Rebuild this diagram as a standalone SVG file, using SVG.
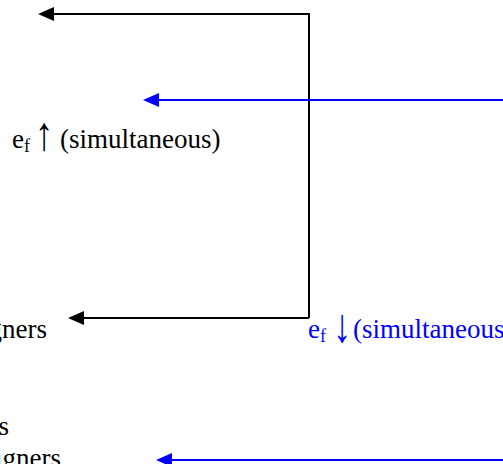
<svg xmlns="http://www.w3.org/2000/svg" width="503" height="464" viewBox="0 0 503 464">
<defs>
<style>
.t{font-family:"Liberation Serif","Times New Roman",serif;font-size:27px}
.s{font-size:18px}
.ar{font-family:"Liberation Serif","Times New Roman",serif;font-size:28px}
.k{fill:#000}
.b{fill:#0000ff}
.lk{stroke:#000;stroke-width:2;fill:none}
.lb{stroke:#0000ff;stroke-width:2;fill:none}
</style>
</defs>
<rect width="503" height="464" fill="#fff"/>
<g id="connectors">
<path class="lk" d="M309,318 L309,14 L54,14"/>
<path d="M54,7 L38,14 L54,21 Z" fill="#000"/>
<path class="lk" d="M309,318 L84,318"/>
<path d="M84,311 L68,318 L84,325 Z" fill="#000"/>
<path class="lb" d="M503,100 L158,100"/>
<path d="M159,93 L143,100 L159,107 Z" fill="#0000ff"/>
<path class="lb" d="M503,460 L171,460"/>
<path d="M172,453 L156,460 L172,467 Z" fill="#0000ff"/>
</g>
<g id="label-up">
<text class="t k" x="12" y="148">e<tspan class="s" dy="4">f</tspan></text>
<text class="ar k" transform="translate(35,150) scale(1.3,1.7)">↑</text>
<text class="t k" x="60" y="148">(simultaneous)</text>
</g>
<g id="label-down">
<text class="t b" x="308" y="338">e<tspan class="s" dy="4">f</tspan></text>
<text class="ar b" transform="translate(333,342) scale(1.3,1.7)">↓</text>
<text class="t b" x="353" y="338">(simultaneous</text>
</g>
<g id="node-mid">
<text class="t k" x="47" y="338" text-anchor="end">gners</text>
</g>
<g id="node-bottom">
<text class="t k" x="9" y="435" text-anchor="end">s</text>
<text class="t k" x="61" y="467" text-anchor="end">igners</text>
</g>
</svg>
